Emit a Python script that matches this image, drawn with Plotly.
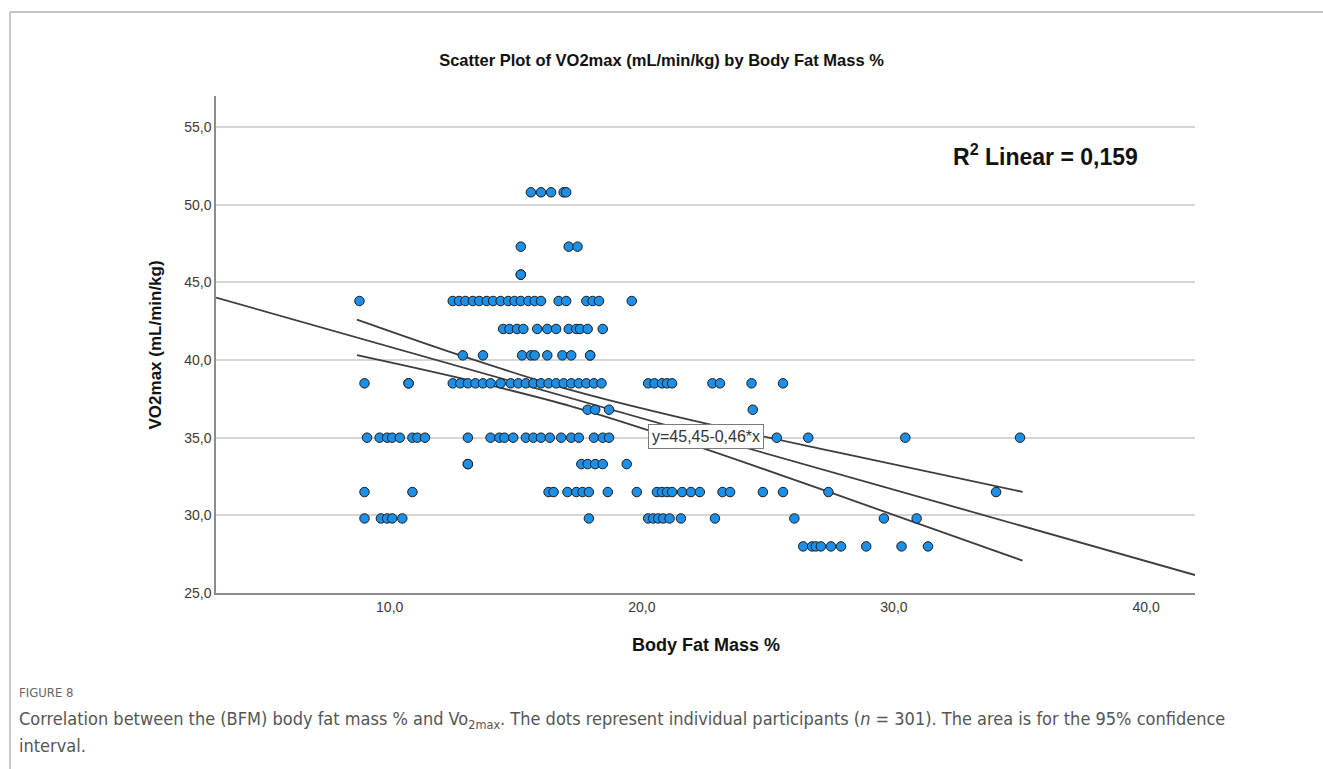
import plotly.graph_objects as go

# VO2max levels (mL/min/kg) and body fat mass % of the participants at each level
vo2_levels = [50.8, 47.3, 45.5, 43.8, 42.0, 40.3, 38.5, 36.8, 35.0, 33.3, 31.5, 29.8, 28.0]

bfm_50_8 = [15.6, 16.0, 16.4, 16.9, 17.0]
bfm_47_3 = [15.2, 17.1, 17.45]
bfm_45_5 = [15.2, 15.2]
bfm_43_8 = [8.8, 12.5, 12.75, 13.0, 13.3, 13.55, 13.85, 14.1, 14.4, 14.7, 14.95, 15.2,
            15.5, 15.75, 16.0, 16.7, 17.0, 17.8, 18.05, 18.3, 19.6]
bfm_42_0 = [14.5, 14.75, 15.05, 15.3, 15.85, 16.25, 16.6, 17.1, 17.4, 17.55, 17.85, 18.45]
bfm_40_3 = [12.9, 13.7, 15.25, 15.6, 15.75, 16.25, 16.85, 17.2, 17.95, 17.95]
bfm_38_5 = [9.0, 10.75, 10.75, 12.5, 12.8, 13.1, 13.4, 13.7, 14.0, 14.4, 14.8, 15.1, 15.4,
            15.7, 16.0, 16.3, 16.6, 16.9, 17.2, 17.5, 17.8, 18.1, 18.4, 20.25, 20.5, 20.8,
            21.0, 21.2, 22.8, 23.1, 24.35, 25.6]
bfm_36_8 = [17.85, 18.15, 18.7, 24.4]
bfm_35_0 = [9.1, 9.6, 9.9, 10.1, 10.4, 10.9, 11.1, 11.4, 13.1, 14.0, 14.35, 14.55, 14.9,
            15.4, 15.7, 16.0, 16.35, 16.8, 17.2, 17.5, 18.1, 18.45, 18.7, 25.35, 26.6,
            30.45, 35.0]
bfm_33_3 = [13.1, 13.1, 17.6, 17.85, 18.15, 18.45, 19.4]
bfm_31_5 = [9.0, 10.9, 16.3, 16.5, 17.05, 17.4, 17.65, 17.9, 18.65, 19.8, 20.6, 20.8, 21.0,
            21.2, 21.6, 21.95, 22.3, 23.2, 23.5, 24.8, 25.6, 27.4, 34.05]
bfm_29_8 = [9.0, 9.65, 9.9, 10.1, 10.5, 17.9, 20.25, 20.45, 20.65, 20.85, 21.1, 21.55,
            22.9, 26.05, 29.6, 30.9]
bfm_28_0 = [26.4, 26.75, 26.9, 27.1, 27.5, 27.9, 28.9, 30.3, 31.35]

bfm_by_level = [bfm_50_8, bfm_47_3, bfm_45_5, bfm_43_8, bfm_42_0, bfm_40_3, bfm_38_5,
                bfm_36_8, bfm_35_0, bfm_33_3, bfm_31_5, bfm_29_8, bfm_28_0]

# Linear fit (as reported) and its 95% confidence band for the mean
fit_intercept = 45.45
fit_slope = -0.46
r_squared = "0,159"
ci_x = [8.7, 13.0, 17.2, 22.0, 28.0, 35.1]
ci_upper = [42.60, 40.19, 38.06, 36.11, 33.97, 31.51]
ci_lower = [40.31, 38.75, 37.02, 34.55, 31.17, 27.09]

# Axes
x_range = [3.11, 41.94]
y_range = [25.0, 57.0]
x_ticks = [10, 20, 30, 40]
x_ticklabels = ["10,0", "20,0", "30,0", "40,0"]
y_ticks = [25, 30, 35, 40, 45, 50, 55]
y_ticklabels = ["25,0", "30,0", "35,0", "40,0", "45,0", "50,0", "55,0"]

bfm = [x for row in bfm_by_level for x in row]
vo2 = [lvl for lvl, row in zip(vo2_levels, bfm_by_level) for _ in row]

FONT = "Liberation Sans, Arial, sans-serif"
CAPTION_FONT = "Liberation Sans Narrow, DejaVu Sans Condensed, Liberation Sans, sans-serif"
LINE_COLOR = "#3d3d3d"

fig = go.Figure()

fit_x = list(x_range)
fit_y = [fit_intercept + fit_slope * x for x in fit_x]

fig.add_trace(go.Scatter(x=ci_x, y=ci_upper, mode="lines", line=dict(color=LINE_COLOR, width=1.8, shape="spline"),
                         hoverinfo="skip", showlegend=False))
fig.add_trace(go.Scatter(x=ci_x, y=ci_lower, mode="lines", line=dict(color=LINE_COLOR, width=1.8, shape="spline"),
                         hoverinfo="skip", showlegend=False))
fig.add_trace(go.Scatter(x=fit_x, y=fit_y, mode="lines", line=dict(color=LINE_COLOR, width=1.8),
                         hoverinfo="skip", showlegend=False))

fig.add_trace(go.Scatter(
    x=bfm, y=vo2, mode="markers",
    marker=dict(size=9.5, color="#1e8fe6", line=dict(color="#1c1c1c", width=1)),
    showlegend=False,
))

# Equation label centred on the fit line
eq_x = (x_range[0] + x_range[1]) / 2
fig.add_annotation(x=eq_x, y=fit_intercept + fit_slope * eq_x, xref="x", yref="y",
                   text="y=45,45-0,46*x", showarrow=False,
                   font=dict(family=FONT, size=16, color="#333333"),
                   bgcolor="white", bordercolor="#7a7a7a", borderwidth=1, borderpad=3)

fig.add_annotation(x=0.847, y=0.881, xref="paper", yref="paper", xanchor="center", yanchor="middle",
                   text=f"<b>R<sup>2</sup> Linear = {r_squared}</b>", showarrow=False,
                   font=dict(family=FONT, size=23, color="#111111"))

# Axis titles
fig.add_annotation(x=-0.0613, y=0.5, xref="paper", yref="paper", textangle=-90,
                   xanchor="center", yanchor="middle",
                   text="<b>VO2max (mL/min/kg)</b>", showarrow=False,
                   font=dict(family=FONT, size=17, color="#111111"))
fig.add_annotation(x=0.5, y=-0.1046, xref="paper", yref="paper", xanchor="center", yanchor="middle",
                   text="<b>Body Fat Mass %</b>", showarrow=False,
                   font=dict(family=FONT, size=18, color="#111111"))

# Figure caption
fig.add_annotation(x=-0.2033, y=-0.1992, xref="paper", yref="paper", xanchor="left", yanchor="middle",
                   text="FIGURE 8", showarrow=False,
                   font=dict(family=CAPTION_FONT, size=13, color="#666666"))
fig.add_annotation(x=-0.2033, y=-0.2555, xref="paper", yref="paper", xanchor="left", yanchor="middle",
                   text="Correlation between the (BFM) body fat mass % and Vo<sub>2max</sub>. The dots represent "
                        "individual participants (<i>n</i> = 301). The area is for the 95% confidence",
                   showarrow=False, font=dict(family=CAPTION_FONT, size=18, color="#555555"))
fig.add_annotation(x=-0.2033, y=-0.3078, xref="paper", yref="paper", xanchor="left", yanchor="middle",
                   text="interval.", showarrow=False,
                   font=dict(family=CAPTION_FONT, size=18, color="#555555"))

# Outer frame (top and left edges)
frame = dict(color="#b3b3b3", width=1.5)
fig.add_shape(type="line", xref="paper", yref="paper", x0=-0.2104, x1=1.14, y0=1.169, y1=1.169, line=frame)
fig.add_shape(type="line", xref="paper", yref="paper", x0=-0.2104, x1=-0.2104, y0=1.169, y1=-0.36, line=frame)

fig.update_layout(
    width=1323, height=769,
    margin=dict(l=216, r=128, t=96, b=176),
    paper_bgcolor="white", plot_bgcolor="white",
    title=dict(text="<b>Scatter Plot of VO2max (mL/min/kg) by Body Fat Mass %</b>",
               x=0.5, xref="container", xanchor="center",
               y=1 - 60 / 769, yref="container", yanchor="middle",
               font=dict(family=FONT, size=16.5, color="#111111")),
    font=dict(family=FONT),
    xaxis=dict(range=x_range, tickvals=x_ticks, ticktext=x_ticklabels, showgrid=False, zeroline=False,
               showline=True, linecolor="#8c8c8c", linewidth=1.5, ticks="",
               tickfont=dict(family=FONT, size=14, color="#3a3a3a")),
    yaxis=dict(range=y_range, tickvals=y_ticks, ticktext=y_ticklabels, showgrid=True, gridcolor="#d6d6d6",
               gridwidth=1.5, zeroline=False, showline=True, linecolor="#8c8c8c", linewidth=1.5, ticks="",
               tickfont=dict(family=FONT, size=14, color="#3a3a3a")),
)

fig.write_html("out.html")
